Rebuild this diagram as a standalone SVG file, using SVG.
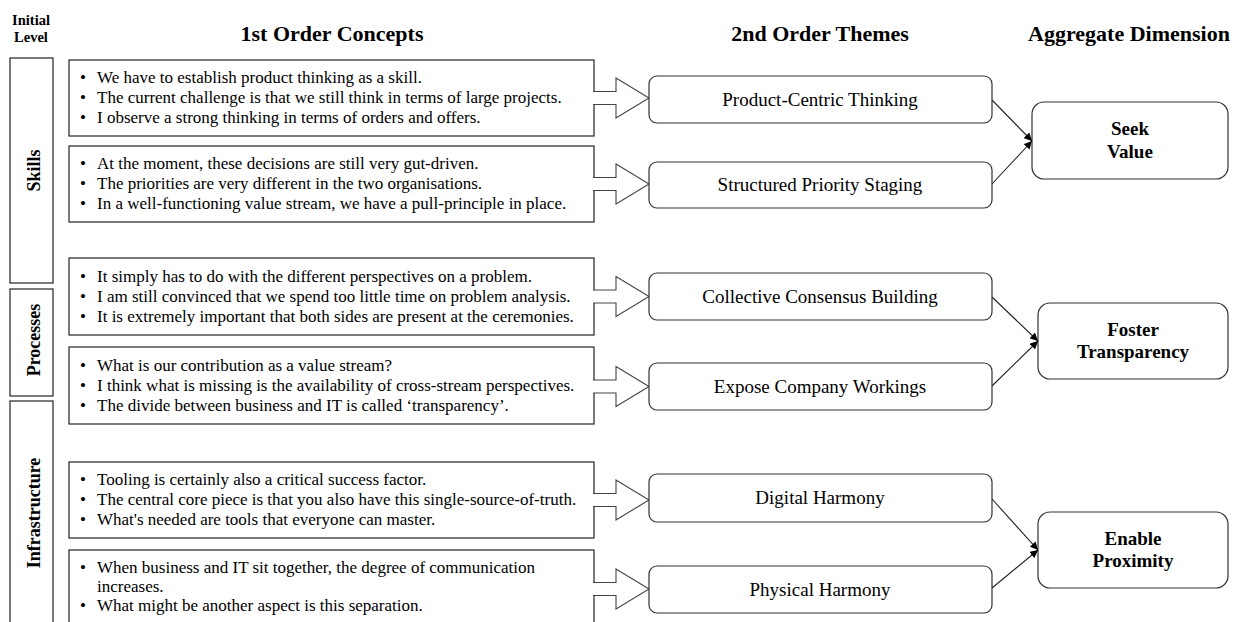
<svg xmlns="http://www.w3.org/2000/svg" width="1242" height="622" viewBox="0 0 1242 622">
<style>
text{font-family:"Liberation Serif","Times New Roman",serif;fill:#000}
.hdr{font-size:22px;font-weight:bold;text-anchor:middle}
.sm{font-size:14.5px;font-weight:bold;text-anchor:middle}
.lvl{font-size:18px;font-weight:bold;text-anchor:middle}
.box{fill:#fff;stroke:#222;stroke-width:1.2}
.th{fill:#fff;stroke:#333;stroke-width:1.2}
.b{font-size:17px}
.tt{font-size:19px;text-anchor:middle}
.ag{font-size:19px;font-weight:bold;text-anchor:middle}
.blk{fill:#fff;stroke:#444;stroke-width:1.1}
.con{stroke:#222;stroke-width:1.1;fill:none;marker-end:url(#ah)}
</style>
<defs>
<marker id="ah" viewBox="0 0 10 10" refX="10" refY="5" markerWidth="8" markerHeight="8" markerUnits="userSpaceOnUse" orient="auto">
<path d="M0,0 L10,5 L0,10 z" fill="#000"/>
</marker>
</defs>
<rect width="1242" height="622" fill="#fff"/>

<g id="headers">
<text class="sm" x="31" y="25">Initial</text>
<text class="sm" x="31" y="42">Level</text>
<text class="hdr" x="332" y="41">1st Order Concepts</text>
<text class="hdr" x="820" y="41">2nd Order Themes</text>
<text class="hdr" x="1129" y="41">Aggregate Dimension</text>
</g>

<g id="level-skills">
<rect class="box" x="10" y="58" width="43" height="225"/>
<text class="lvl" transform="translate(40,170.5) rotate(-90)">Skills</text>
</g>
<g id="level-processes">
<rect class="box" x="10" y="289" width="43" height="107"/>
<text class="lvl" transform="translate(40,340) rotate(-90)">Processes</text>
</g>
<g id="level-infrastructure">
<rect class="box" x="10" y="401" width="43" height="240"/>
<text class="lvl" transform="translate(40,513) rotate(-90)">Infrastructure</text>
</g>

<g id="concept1">
<rect class="box" x="69" y="60" width="525" height="76"/>
<text class="b" x="80" y="83">•</text><text class="b" x="97" y="83">We have to establish product thinking as a skill.</text>
<text class="b" x="80" y="103">•</text><text class="b" x="97" y="103">The current challenge is that we still think in terms of large projects.</text>
<text class="b" x="80" y="123">•</text><text class="b" x="97" y="123">I observe a strong thinking in terms of orders and offers.</text>
</g>
<g id="concept2">
<rect class="box" x="69" y="146" width="525" height="76"/>
<text class="b" x="80" y="169">•</text><text class="b" x="97" y="169">At the moment, these decisions are still very gut-driven.</text>
<text class="b" x="80" y="189">•</text><text class="b" x="97" y="189">The priorities are very different in the two organisations.</text>
<text class="b" x="80" y="209">•</text><text class="b" x="97" y="209">In a well-functioning value stream, we have a pull-principle in place.</text>
</g>
<g id="concept3">
<rect class="box" x="69" y="258" width="525" height="77"/>
<text class="b" x="80" y="281.5">•</text><text class="b" x="97" y="281.5">It simply has to do with the different perspectives on a problem.</text>
<text class="b" x="80" y="301.5">•</text><text class="b" x="97" y="301.5">I am still convinced that we spend too little time on problem analysis.</text>
<text class="b" x="80" y="321.5">•</text><text class="b" x="97" y="321.5">It is extremely important that both sides are present at the ceremonies.</text>
</g>
<g id="concept4">
<rect class="box" x="69" y="347" width="525" height="77"/>
<text class="b" x="80" y="370.5">•</text><text class="b" x="97" y="370.5">What is our contribution as a value stream?</text>
<text class="b" x="80" y="390.5">•</text><text class="b" x="97" y="390.5">I think what is missing is the availability of cross-stream perspectives.</text>
<text class="b" x="80" y="410.5">•</text><text class="b" x="97" y="410.5">The divide between business and IT is called ‘transparency’.</text>
</g>
<g id="concept5">
<rect class="box" x="69" y="462" width="525" height="76"/>
<text class="b" x="80" y="485">•</text><text class="b" x="97" y="485">Tooling is certainly also a critical success factor.</text>
<text class="b" x="80" y="505">•</text><text class="b" x="97" y="505">The central core piece is that you also have this single-source-of-truth.</text>
<text class="b" x="80" y="525">•</text><text class="b" x="97" y="525">What's needed are tools that everyone can master.</text>
</g>
<g id="concept6">
<rect class="box" x="69" y="550" width="525" height="90"/>
<text class="b" x="80" y="573">•</text><text class="b" x="97" y="573">When business and IT sit together, the degree of communication</text>
<text class="b" x="97" y="592">increases.</text>
<text class="b" x="80" y="611">•</text><text class="b" x="97" y="611">What might be another aspect is this separation.</text>
</g>

<g id="block-arrows">
<path class="blk" d="M593,91.5 H616 V78 L649,98 L616,118 V104.5 H593"/>
<path class="blk" d="M593,177.5 H616 V164 L649,184 L616,204 V190.5 H593"/>
<path class="blk" d="M593,290 H616 V276.5 L649,296.5 L616,316.5 V303 H593"/>
<path class="blk" d="M593,380 H616 V366.5 L649,386.5 L616,406.5 V393 H593"/>
<path class="blk" d="M593,493.5 H616 V480 L649,500 L616,520 V506.5 H593"/>
<path class="blk" d="M593,582.5 H616 V569 L649,589 L616,609 V595.5 H593"/>
</g>

<g id="theme1">
<rect class="th" x="649" y="76" width="343" height="47" rx="8"/>
<text class="tt" x="820" y="105.5">Product-Centric Thinking</text>
</g>
<g id="theme2">
<rect class="th" x="649" y="162" width="343" height="46" rx="8"/>
<text class="tt" x="820" y="191">Structured Priority Staging</text>
</g>
<g id="theme3">
<rect class="th" x="649" y="273" width="343" height="47" rx="8"/>
<text class="tt" x="820" y="302.5">Collective Consensus Building</text>
</g>
<g id="theme4">
<rect class="th" x="649" y="363" width="343" height="47" rx="8"/>
<text class="tt" x="820" y="392.5">Expose Company Workings</text>
</g>
<g id="theme5">
<rect class="th" x="649" y="474" width="343" height="48" rx="8"/>
<text class="tt" x="820" y="504">Digital Harmony</text>
</g>
<g id="theme6">
<rect class="th" x="649" y="566" width="343" height="47" rx="8"/>
<text class="tt" x="820" y="595.5">Physical Harmony</text>
</g>

<g id="agg-seek-value">
<rect class="th" x="1032" y="102" width="196" height="77" rx="12"/>
<text class="ag" x="1130" y="135">Seek</text>
<text class="ag" x="1130" y="158">Value</text>
</g>
<g id="agg-foster-transparency">
<rect class="th" x="1038" y="303" width="190" height="76" rx="12"/>
<text class="ag" x="1133" y="336">Foster</text>
<text class="ag" x="1133" y="358">Transparency</text>
</g>
<g id="agg-enable-proximity">
<rect class="th" x="1038" y="512" width="190" height="76" rx="12"/>
<text class="ag" x="1133" y="545">Enable</text>
<text class="ag" x="1133" y="567">Proximity</text>
</g>

<g id="connectors">
<line class="con" x1="992" y1="100" x2="1032" y2="141"/>
<line class="con" x1="992" y1="184" x2="1032" y2="141"/>
<line class="con" x1="992" y1="297" x2="1038" y2="341"/>
<line class="con" x1="992" y1="386" x2="1038" y2="341"/>
<line class="con" x1="992" y1="499" x2="1038" y2="550"/>
<line class="con" x1="992" y1="588" x2="1038" y2="550"/>
</g>
</svg>
